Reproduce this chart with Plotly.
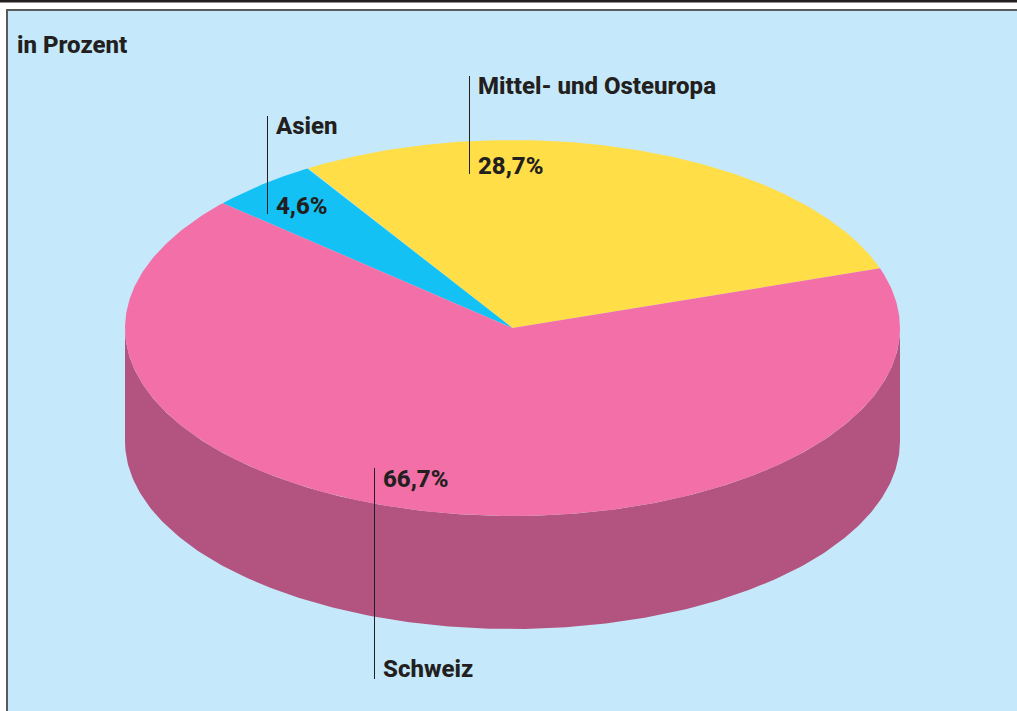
import numpy as np
import plotly.graph_objects as go

categories = ["Mittel- und Osteuropa", "Asien", "Schweiz"]
values = [28.7, 4.6, 66.7]
value_labels = ["28,7%", "4,6%", "66,7%"]
top_colors = ["#ffde47", "#14c1f4", "#f26fa8"]
side_colors = ["#b38f32", "#0e87ab", "#b35380"]

WIDTH, HEIGHT = 1017, 711
CX, CY, RX, RY, DEPTH = 512.5, 328, 387.5, 188, 113
START_DEG = 18.5
FONT = "Roboto, Liberation Sans, sans-serif"
INK = "#231f20"

# x of leader line, y top, y bottom, category label y, value label y
leader_x = [469.5, 267.5, 374.5]
leader_top = [76, 116, 468]
leader_bot = [174, 214, 679]
cat_y = [86, 126, 669]
val_y = [166, 206, 479]


def ellipse(deg, dy=0.0):
    t = np.radians(deg)
    return CX + RX * np.cos(t), CY - RY * np.sin(t) + dy


fig = go.Figure()

edges = START_DEG + np.cumsum([0] + values) * 3.6

# side wall: only the part of each slice facing the viewer
for name, a0, a1, col in zip(categories, edges[:-1], edges[1:], side_colors):
    for shift in (0, 360):
        lo, hi = max(a0, 180 + shift), min(a1, 360 + shift)
        if hi <= lo:
            continue
        d = np.linspace(lo, hi, 240)
        x1, y1 = ellipse(d)
        x2, y2 = ellipse(d[::-1], DEPTH)
        fig.add_trace(go.Scatter(
            x=np.r_[x1, x2], y=np.r_[y1, y2], mode="lines", fill="toself",
            fillcolor=col, line=dict(width=0), hoverinfo="skip", showlegend=False,
        ))

# top faces
for name, v, a0, a1, col in zip(categories, values, edges[:-1], edges[1:], top_colors):
    d = np.linspace(a0, a1, 400)
    x, y = ellipse(d)
    fig.add_trace(go.Scatter(
        x=np.r_[CX, x, CX], y=np.r_[CY, y, CY], mode="lines", fill="toself",
        fillcolor=col, line=dict(width=0), name=name, showlegend=False,
        hoverinfo="text", text=f"{name}: {v}%",
    ))

shapes = [
    dict(type="rect", x0=8, x1=WIDTH, y0=11, y1=HEIGHT, fillcolor="#c5e9fa",
         line=dict(width=0), layer="below"),
    dict(type="rect", x0=0, x1=WIDTH, y0=0, y1=2.5, fillcolor="#231f20",
         line=dict(width=0), layer="below"),
    dict(type="rect", x0=6, x1=WIDTH, y0=9, y1=11, fillcolor="#5a5a5a",
         line=dict(width=0), layer="below"),
    dict(type="rect", x0=6, x1=8, y0=9, y1=HEIGHT, fillcolor="#5a5a5a",
         line=dict(width=0), layer="below"),
]
for lx, t, b in zip(leader_x, leader_top, leader_bot):
    shapes.append(dict(type="line", x0=lx, x1=lx, y0=t, y1=b,
                       line=dict(color=INK, width=1), layer="above"))


def label(x, y, text):
    return dict(x=x, y=y, text=text, showarrow=False, xanchor="left",
                yanchor="middle", xref="x", yref="y",
                font=dict(family=FONT, size=24, color=INK, weight=800))


annotations = [label(15, 45, "in Prozent")]
for lx, cy_, vy, cat, vl in zip(leader_x, cat_y, val_y, categories, value_labels):
    annotations.append(label(lx + 6, cy_, cat))
    annotations.append(label(lx + 6, vy, vl))

fig.update_layout(
    width=WIDTH, height=HEIGHT, margin=dict(l=0, r=0, t=0, b=0),
    paper_bgcolor="white", plot_bgcolor="white", showlegend=False,
    xaxis=dict(range=[0, WIDTH], visible=False, fixedrange=True),
    yaxis=dict(range=[HEIGHT, 0], visible=False, fixedrange=True),
    shapes=shapes, annotations=annotations,
)
fig.write_html(
    "out.html",
    config={"displayModeBar": False},
    post_script="document.body.style.margin='0';document.body.style.overflow='hidden';",
)
